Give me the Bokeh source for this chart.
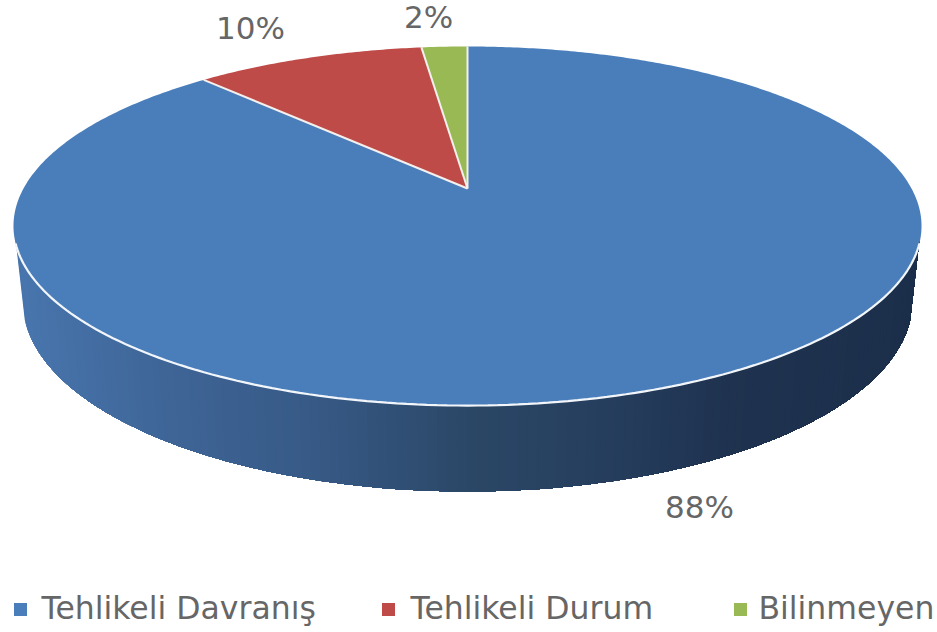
import numpy as np
from bokeh.plotting import figure
from bokeh.models import Range1d
from bokeh.core.properties import value
from bokeh.embed import file_html
from bokeh.resources import INLINE

categories = ["Tehlikeli Davranış", "Tehlikeli Durum", "Bilinmeyen"]
shares = [88, 10, 2]
share_labels = ["88%", "10%", "2%"]
colors = ["#4a7ebb", "#be4b48", "#98b954"]

FONT = "DejaVu Sans"
TXT = "#666666"

# perspective disc: unit circle (u, v) -> page pixels
CX, C = 467.0, 0.209
TOP = dict(a=444.0, A=-132.4, B=188.0)
BOT = dict(a=435.0, A=-127.1, B=261.3)


def project(u, v, d):
    w = 1 + C * v
    return CX + d["a"] * u / w, (d["A"] * v + d["B"]) / w


p = figure(width=937, height=632, x_range=Range1d(0, 937), y_range=Range1d(632, 0),
           toolbar_location=None, output_backend="svg", min_border=0,
           outline_line_color=None, background_fill_color="white", border_fill_color="white")
p.axis.visible = False
p.grid.visible = False

# side wall, darkening left to right; each band paints over the rest of the wall
stop_x = [20, 150, 300, 467, 600, 720, 920]
stop_rgb = np.array([[0x48, 0x75, 0xad], [0x3f, 0x66, 0x98], [0x37, 0x5a, 0x87], [0x2b, 0x47, 0x66],
                     [0x26, 0x3e, 0x5e], [0x1f, 0x33, 0x50], [0x1b, 0x2e, 0x4a]], dtype=float)
vmin = -0.30
phi0 = np.arcsin(-vmin)
phis = np.linspace(np.pi + phi0, 2 * np.pi - phi0, 141)
tx, ty = project(np.cos(phis), np.sin(phis), TOP)
bx, by = project(np.cos(phis), np.sin(phis), BOT)
wx, wy, wc = [], [], []
for i in range(len(phis) - 1):
    wx.append([*tx[i:], *bx[i:][::-1]])
    wy.append([*(ty[i:] - 3), *by[i:][::-1]])
    rgb = [int(round(np.interp(tx[i], stop_x, stop_rgb[:, k]))) for k in range(3)]
    wc.append("#%02x%02x%02x" % tuple(rgb))
p.patches(wx, wy, fill_color=wc, line_color=None)

# top face slices, clockwise from 12 o'clock
cum = np.cumsum([0] + shares) / sum(shares) * 2 * np.pi
ax, ay = project(0.0, 0.0, TOP)
for i, col in enumerate(colors):
    t = np.linspace(cum[i], cum[i + 1], max(8, int(shares[i] * 6)))
    xs, ys = project(np.sin(t), np.cos(t), TOP)
    p.patch([ax, *xs], [ay, *ys], fill_color=col, line_color=None)

# white separators and front rim
for ang in cum[1:]:
    x1, y1 = project(np.sin(ang), np.cos(ang), TOP)
    p.line([ax, x1], [ay, y1], line_color="#f4f0ee", line_width=2)
p.line(tx, ty, line_color="#f2f6fa", line_width=2.2)

# data labels
lab_x = [699, 250, 428]
lab_y = [506, 27, 16]
p.text(lab_x, lab_y, text=share_labels, text_font=value(FONT), text_font_size="31px",
       text_color=TXT, text_align="center", text_baseline="middle")

# legend
key_x = [20, 388, 740]
text_x = [41, 410, 758]
key_y = 609
p.scatter(key_x, [key_y] * 3, marker="square", size=13, fill_color=colors, line_color=None)
p.text(text_x, [key_y - 2] * 3, text=categories, text_font=value(FONT), text_font_size="31.5px",
       text_color=TXT, text_align="left", text_baseline="middle")

open("out.html", "w").write(file_html(p, INLINE))
